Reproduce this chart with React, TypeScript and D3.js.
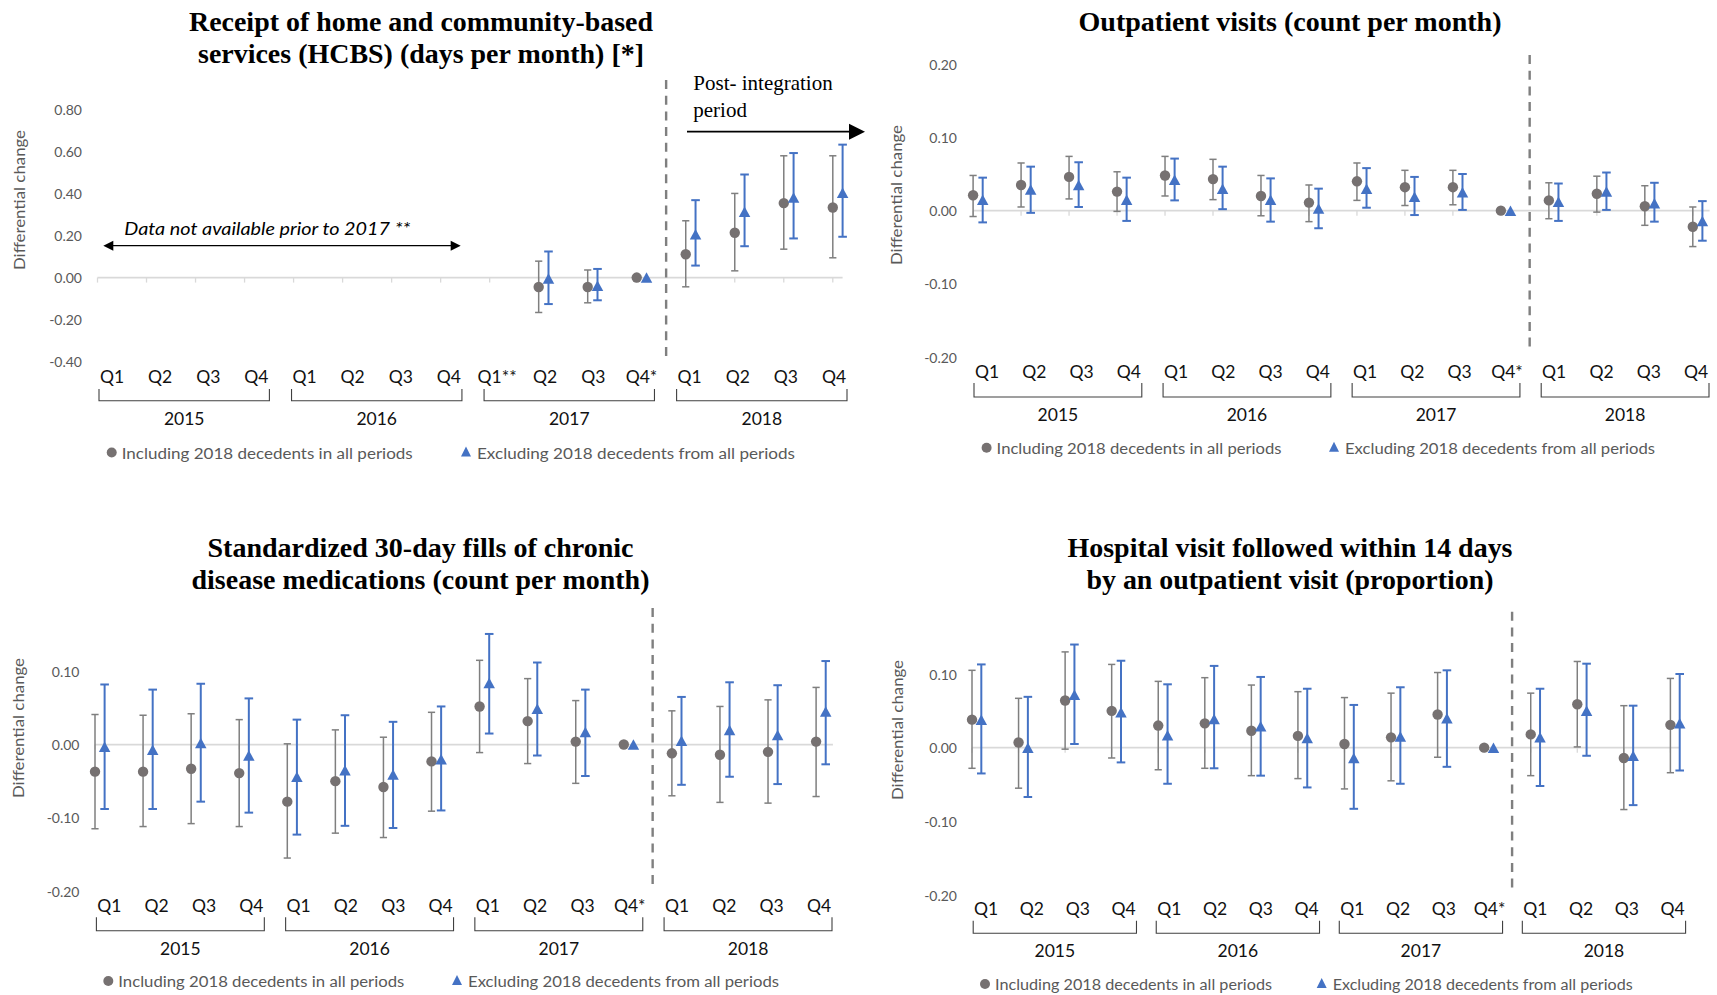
import React from "react";
import * as d3 from "d3";

// ---------- DATA ----------
const quarterLabels = ["Q1", "Q2", "Q3", "Q4", "Q1", "Q2", "Q3", "Q4", "Q1", "Q2", "Q3", "Q4*", "Q1", "Q2", "Q3", "Q4"];
const hcbsQuarterLabels = ["Q1", "Q2", "Q3", "Q4", "Q1", "Q2", "Q3", "Q4", "Q1**", "Q2", "Q3", "Q4*", "Q1", "Q2", "Q3", "Q4"];
const years = ["2015", "2016", "2017", "2018"];
const legendLabels = ["Including 2018 decedents in all periods", "Excluding 2018 decedents from all periods"];
const yAxisTitle = "Differential change";

const N = null;

// Panel 1: HCBS (days per month)
const hcbsInclVal = [N, N, N, N, N, N, N, N, N, -0.045, -0.045, 0, 0.111, 0.213, 0.354, 0.333];
const hcbsInclLo = [N, N, N, N, N, N, N, N, N, -0.166, -0.120, N, -0.044, 0.032, 0.135, 0.094];
const hcbsInclHi = [N, N, N, N, N, N, N, N, N, 0.078, 0.036, N, 0.270, 0.400, 0.579, 0.579];
const hcbsExclVal = [N, N, N, N, N, N, N, N, N, -0.004, -0.039, 0, 0.206, 0.313, 0.381, 0.403];
const hcbsExclLo = [N, N, N, N, N, N, N, N, N, -0.126, -0.108, N, 0.057, 0.149, 0.186, 0.194];
const hcbsExclHi = [N, N, N, N, N, N, N, N, N, 0.124, 0.041, N, 0.368, 0.490, 0.592, 0.632];

// Panel 2: Outpatient visits (count per month)
const opInclVal = [0.021, 0.035, 0.046, 0.026, 0.048, 0.043, 0.020, 0.011, 0.040, 0.032, 0.032, 0, 0.014, 0.023, 0.006, -0.022];
const opInclLo = [-0.008, 0.005, 0.016, -0.001, 0.020, 0.015, -0.007, -0.015, 0.014, 0.007, 0.008, N, -0.011, -0.002, -0.020, -0.049];
const opInclHi = [0.048, 0.065, 0.074, 0.053, 0.074, 0.070, 0.048, 0.035, 0.065, 0.055, 0.055, N, 0.038, 0.047, 0.034, 0.005];
const opExclVal = [0.015, 0.029, 0.035, 0.015, 0.042, 0.030, 0.015, 0.003, 0.030, 0.019, 0.025, 0, 0.012, 0.026, 0.010, -0.014];
const opExclLo = [-0.016, -0.003, 0.005, -0.014, 0.014, 0.002, -0.015, -0.024, 0.004, -0.006, 0.001, N, -0.014, 0.001, -0.015, -0.041];
const opExclHi = [0.045, 0.060, 0.066, 0.045, 0.071, 0.060, 0.044, 0.030, 0.058, 0.046, 0.050, N, 0.037, 0.052, 0.038, 0.013];

// Panel 3: Standardized 30-day fills of chronic disease medications
const medInclVal = [-0.037, -0.037, -0.033, -0.039, -0.078, -0.050, -0.058, -0.023, 0.052, 0.032, 0.004, 0, -0.012, -0.014, -0.010, 0.004];
const medInclLo = [-0.115, -0.112, -0.108, -0.112, -0.155, -0.121, -0.127, -0.091, -0.011, -0.026, -0.053, N, -0.070, -0.079, -0.080, -0.071];
const medInclHi = [0.041, 0.040, 0.042, 0.034, 0.001, 0.020, 0.010, 0.044, 0.115, 0.090, 0.060, N, 0.046, 0.052, 0.061, 0.078];
const medExclVal = [-0.003, -0.007, 0.002, -0.015, -0.044, -0.035, -0.041, -0.020, 0.084, 0.049, 0.017, 0, 0.005, 0.020, 0.013, 0.045];
const medExclLo = [-0.088, -0.088, -0.078, -0.093, -0.123, -0.111, -0.114, -0.090, 0.015, -0.015, -0.043, N, -0.055, -0.044, -0.054, -0.027];
const medExclHi = [0.082, 0.075, 0.083, 0.063, 0.034, 0.040, 0.031, 0.052, 0.151, 0.112, 0.075, N, 0.065, 0.085, 0.081, 0.114];

// Panel 4: Hospital visit followed within 14 days by an outpatient visit
const hospInclVal = [0.038, 0.007, 0.064, 0.050, 0.030, 0.033, 0.023, 0.016, 0.005, 0.014, 0.045, 0, 0.018, 0.059, -0.014, 0.031];
const hospInclLo = [-0.028, -0.055, -0.002, -0.014, -0.030, -0.028, -0.038, -0.042, -0.056, -0.045, -0.013, N, -0.038, 0.001, -0.084, -0.034];
const hospInclHi = [0.105, 0.067, 0.130, 0.113, 0.090, 0.095, 0.085, 0.076, 0.068, 0.074, 0.102, N, 0.074, 0.117, 0.057, 0.094];
const hospExclVal = [0.038, 0.000, 0.072, 0.048, 0.017, 0.039, 0.029, 0.013, -0.014, 0.015, 0.040, 0, 0.014, 0.050, -0.011, 0.033];
const hospExclLo = [-0.035, -0.067, 0.005, -0.020, -0.049, -0.028, -0.038, -0.054, -0.083, -0.049, -0.026, N, -0.052, -0.011, -0.078, -0.031];
const hospExclHi = [0.113, 0.069, 0.140, 0.118, 0.086, 0.111, 0.096, 0.080, 0.058, 0.082, 0.105, N, 0.080, 0.114, 0.057, 0.100];

const hcbsTicks = [-0.4, -0.2, 0, 0.2, 0.4, 0.6, 0.8];
const opTicks = [-0.2, -0.1, 0, 0.1, 0.2];
const medTicks = [-0.2, -0.1, 0, 0.1];
const hospTicks = [-0.2, -0.1, 0, 0.1];

// ---------- STYLE ----------
const SANS = "Lato, Carlito, Calibri, 'Noto Sans', sans-serif";
const SERIF = "'Liberation Serif', 'Times New Roman', serif";
const GRAY_MARK = "#767171";
const GRAY_BAR = "#7f7f7f";
const BLUE = "#4472C4";
const AXIS_GRAY = "#d9d9d9";
const LABEL_GRAY = "#595959";

type Series = { val: (number | null)[]; lo: (number | null)[]; hi: (number | null)[] };

type PanelCfg = {
  title: string[];
  titleW: number[];
  titleX: number;
  titleY: number;
  yV0: number; yP0: number; yV1: number; yP1: number;
  ticks: number[];
  yLabelX: number;
  yTitleX: number; yTitleY: number; yTitleLen: number;
  xFirst: number; xLast: number; zeroEnd: number;
  qLabels: string[]; qFirst: number; qLast: number; qY: number;
  bracketTop: number; bracketBottom: number; yearY: number;
  dashY1: number; dashY2: number;
  legendY: number; legendX: [number, number]; legendW: [number, number];
  incl: Series; excl: Series;
};

const panels: PanelCfg[] = [
  {
    title: ["Receipt of home and community-based", "services (HCBS) (days per month) [*]"],
    titleW: [464, 446],
    titleX: 421, titleY: 31,
    yV0: -0.4, yP0: 361.7, yV1: 0.8, yP1: 109.3,
    ticks: hcbsTicks, yLabelX: 82,
    yTitleX: 19, yTitleY: 200, yTitleLen: 140,
    xFirst: 97.5, xLast: 832.8, zeroEnd: 15.2,
    qLabels: hcbsQuarterLabels, qFirst: 112, qLast: 834, qY: 376,
    bracketTop: 389, bracketBottom: 400.7, yearY: 418.5,
    dashY1: 80, dashY2: 356,
    legendY: 452.5, legendX: [121.7, 477], legendW: [291, 318],
    incl: { val: hcbsInclVal, lo: hcbsInclLo, hi: hcbsInclHi },
    excl: { val: hcbsExclVal, lo: hcbsExclLo, hi: hcbsExclHi },
  },
  {
    title: ["Outpatient visits (count per month)"],
    titleW: [423],
    titleX: 1290, titleY: 31,
    yV0: -0.2, yP0: 357.3, yV1: 0.2, yP1: 64,
    ticks: opTicks, yLabelX: 957,
    yTitleX: 895.5, yTitleY: 195, yTitleLen: 140,
    xFirst: 973.1, xLast: 1692.8, zeroEnd: 15.35,
    qLabels: quarterLabels, qFirst: 987, qLast: 1696, qY: 371,
    bracketTop: 383, bracketBottom: 397, yearY: 414,
    dashY1: 55, dashY2: 352,
    legendY: 447.7, legendX: [996.6, 1345], legendW: [285, 310],
    incl: { val: opInclVal, lo: opInclLo, hi: opInclHi },
    excl: { val: opExclVal, lo: opExclLo, hi: opExclHi },
  },
  {
    title: ["Standardized 30-day fills of chronic", "disease medications (count per month)"],
    titleW: [426, 458],
    titleX: 420.5, titleY: 556.5,
    yV0: -0.2, yP0: 891, yV1: 0.1, yP1: 671.3,
    ticks: medTicks, yLabelX: 79.5,
    yTitleX: 17.8, yTitleY: 728, yTitleLen: 140,
    xFirst: 95, xLast: 816.1, zeroEnd: 15.35,
    qLabels: quarterLabels, qFirst: 109.4, qLast: 819, qY: 905,
    bracketTop: 917.3, bracketBottom: 930.7, yearY: 948.3,
    dashY1: 608, dashY2: 885,
    legendY: 981, legendX: [118.3, 468], legendW: [286, 311],
    incl: { val: medInclVal, lo: medInclLo, hi: medInclHi },
    excl: { val: medExclVal, lo: medExclLo, hi: medExclHi },
  },
  {
    title: ["Hospital visit followed within 14 days", "by an outpatient visit (proportion)"],
    titleW: [445, 407],
    titleX: 1290, titleY: 556.5,
    yV0: -0.2, yP0: 895, yV1: 0.1, yP1: 674,
    ticks: hospTicks, yLabelX: 957,
    yTitleX: 897, yTitleY: 730, yTitleLen: 140,
    xFirst: 972, xLast: 1670.4, zeroEnd: 15.2,
    qLabels: quarterLabels, qFirst: 986.2, qLast: 1672.6, qY: 908,
    bracketTop: 920.7, bracketBottom: 933.3, yearY: 950.7,
    dashY1: 611.7, dashY2: 890,
    legendY: 984, legendX: [995, 1332.7], legendW: [277, 300],
    incl: { val: hospInclVal, lo: hospInclLo, hi: hospInclHi },
    excl: { val: hospExclVal, lo: hospExclLo, hi: hospExclHi },
  },
];

const idx = d3.range(16);
const TRI_OFFSET = 0.2;

function trianglePath(cx: number, cy: number, w: number, h: number) {
  const p = d3.path();
  p.moveTo(cx, cy - h / 2);
  p.lineTo(cx + w / 2, cy + h / 2);
  p.lineTo(cx - w / 2, cy + h / 2);
  p.closePath();
  return p.toString();
}

function ErrorBars({ s, x, y, dx, color, width, cap }: any) {
  return (
    <g stroke={color} strokeWidth={width} fill="none">
      {idx.map((i) => {
        const v = s.val[i], lo = s.lo[i], hi = s.hi[i];
        if (v == null || lo == null || hi == null) return null;
        const cx = x(i + dx);
        return (
          <g key={i}>
            <line x1={cx} x2={cx} y1={y(lo)} y2={y(hi)} />
            <line x1={cx - cap} x2={cx + cap} y1={y(lo)} y2={y(lo)} />
            <line x1={cx - cap} x2={cx + cap} y1={y(hi)} y2={y(hi)} />
          </g>
        );
      })}
    </g>
  );
}

function Panel({ cfg }: { cfg: PanelCfg }) {
  const x = d3.scaleLinear().domain([0, 15]).range([cfg.xFirst, cfg.xLast]);
  const y = d3.scaleLinear().domain([cfg.yV0, cfg.yV1]).range([cfg.yP0, cfg.yP1]);
  const lx = d3.scaleLinear().domain([0, 15]).range([cfg.qFirst, cfg.qLast]);
  const y0 = y(0);
  const dashX = x(11.6);
  return (
    <g>
      {/* Title */}
      {cfg.title.map((t, k) => (
        <text
          key={k}
          x={cfg.titleX}
          y={cfg.titleY + k * 32}
          textAnchor="middle"
          fontFamily={SERIF}
          fontWeight="bold"
          fontSize={27}
          fill="#000"
          textLength={cfg.titleW[k]}
          lengthAdjust="spacingAndGlyphs"
        >
          {t}
        </text>
      ))}

      {/* Y tick labels */}
      {cfg.ticks.map((t) => (
        <text key={t} x={cfg.yLabelX} y={y(t)} textAnchor="end" dominantBaseline="central" fontFamily={SANS} fontSize={14} fill={LABEL_GRAY}>
          {t.toFixed(2)}
        </text>
      ))}

      {/* Y axis title */}
      <text
        transform={`translate(${cfg.yTitleX},${cfg.yTitleY}) rotate(-90)`}
        textAnchor="middle"
        dominantBaseline="central"
        fontFamily={SANS}
        fontSize={15.5}
        fill={LABEL_GRAY}
        textLength={cfg.yTitleLen}
        lengthAdjust="spacingAndGlyphs"
      >
        {yAxisTitle}
      </text>

      {/* Zero line and ticks */}
      <line x1={x(0)} x2={x(cfg.zeroEnd)} y1={y0} y2={y0} stroke={AXIS_GRAY} strokeWidth={1.8} />
      {idx.map((i) => (
        <line key={i} x1={x(i)} x2={x(i)} y1={y0} y2={y0 + 5} stroke={AXIS_GRAY} strokeWidth={1.3} />
      ))}

      {/* Dashed integration line */}
      <line x1={dashX} x2={dashX} y1={cfg.dashY1} y2={cfg.dashY2} stroke={GRAY_BAR} strokeWidth={2.4} strokeDasharray="9,6.7" />

      {/* Including series */}
      <ErrorBars s={cfg.incl} x={x} y={y} dx={0} color={GRAY_BAR} width={1.5} cap={3.6} />
      {idx.map((i) =>
        cfg.incl.val[i] == null ? null : (
          <circle key={i} cx={x(i)} cy={y(cfg.incl.val[i] as number)} r={5.2} fill={GRAY_MARK} />
        )
      )}

      {/* Excluding series */}
      <ErrorBars s={cfg.excl} x={x} y={y} dx={TRI_OFFSET} color={BLUE} width={2} cap={4.3} />
      {idx.map((i) =>
        cfg.excl.val[i] == null ? null : (
          <path key={i} d={trianglePath(x(i + TRI_OFFSET), y(cfg.excl.val[i] as number), 11.5, 10.5)} fill={BLUE} />
        )
      )}

      {/* Quarter labels */}
      {cfg.qLabels.map((q, i) => (
        <text key={i} x={lx(i)} y={cfg.qY} textAnchor="middle" dominantBaseline="central" fontFamily={SANS} fontSize={17.5} fill="#111">
          {q}
        </text>
      ))}

      {/* Year brackets */}
      {years.map((yr, g) => {
        const a = lx(g * 4) - 13;
        const b = lx(g * 4 + 3) + 13;
        return (
          <g key={yr}>
            <path
              d={`M${a},${cfg.bracketTop}V${cfg.bracketBottom}H${b}V${cfg.bracketTop}`}
              fill="none"
              stroke="#404040"
              strokeWidth={1.1}
            />
            <text x={(a + b) / 2} y={cfg.yearY} textAnchor="middle" dominantBaseline="central" fontFamily={SANS} fontSize={17.5} fill="#111">
              {yr}
            </text>
          </g>
        );
      })}

      {/* Legend */}
      <circle cx={cfg.legendX[0] - 10} cy={cfg.legendY} r={5} fill={GRAY_MARK} />
      <text x={cfg.legendX[0]} y={cfg.legendY} dominantBaseline="central" fontFamily={SANS} fontSize={15.5} fill={LABEL_GRAY} textLength={cfg.legendW[0]} lengthAdjust="spacingAndGlyphs">
        {legendLabels[0]}
      </text>
      <path d={trianglePath(cfg.legendX[1] - 11, cfg.legendY - 1, 10, 10)} fill={BLUE} />
      <text x={cfg.legendX[1]} y={cfg.legendY} dominantBaseline="central" fontFamily={SANS} fontSize={15.5} fill={LABEL_GRAY} textLength={cfg.legendW[1]} lengthAdjust="spacingAndGlyphs">
        {legendLabels[1]}
      </text>
    </g>
  );
}

function Annotations() {
  return (
    <g>
      {/* Post-integration label and arrow */}
      <text fontFamily={SERIF} fontSize={21} fill="#000">
        <tspan x={693.3} y={90}>Post- integration</tspan>
        <tspan x={693.3} y={117.3}>period</tspan>
      </text>
      <line x1={687} x2={850} y1={131.7} y2={131.7} stroke="#000" strokeWidth={1.8} />
      <path d="M865,131.7L849,123.7L849,139.7Z" fill="#000" />

      {/* Data not available */}
      <text x={124.3} y={235} fontFamily={SANS} fontStyle="italic" fontSize={18} fill="#000" textLength={286} lengthAdjust="spacingAndGlyphs">
        Data not available prior to 2017 **
      </text>
      <line x1={112} x2={452} y1={245.7} y2={245.7} stroke="#000" strokeWidth={1.3} />
      <path d="M103.3,245.7L113.3,240.7L113.3,250.7Z" fill="#000" />
      <path d="M460.7,245.7L450.7,240.7L450.7,250.7Z" fill="#000" />
    </g>
  );
}

export default function App() {
  return (
    <div style={{ position: "absolute", left: 0, top: 0, width: 1717, height: 995, background: "#fff" }}>
      <svg width={1717} height={995} viewBox="0 0 1717 995" style={{ display: "block" }}>
        <rect width={1717} height={995} fill="#fff" />
        {panels.map((p, k) => (
          <Panel key={k} cfg={p} />
        ))}
        <Annotations />
      </svg>
    </div>
  );
}
